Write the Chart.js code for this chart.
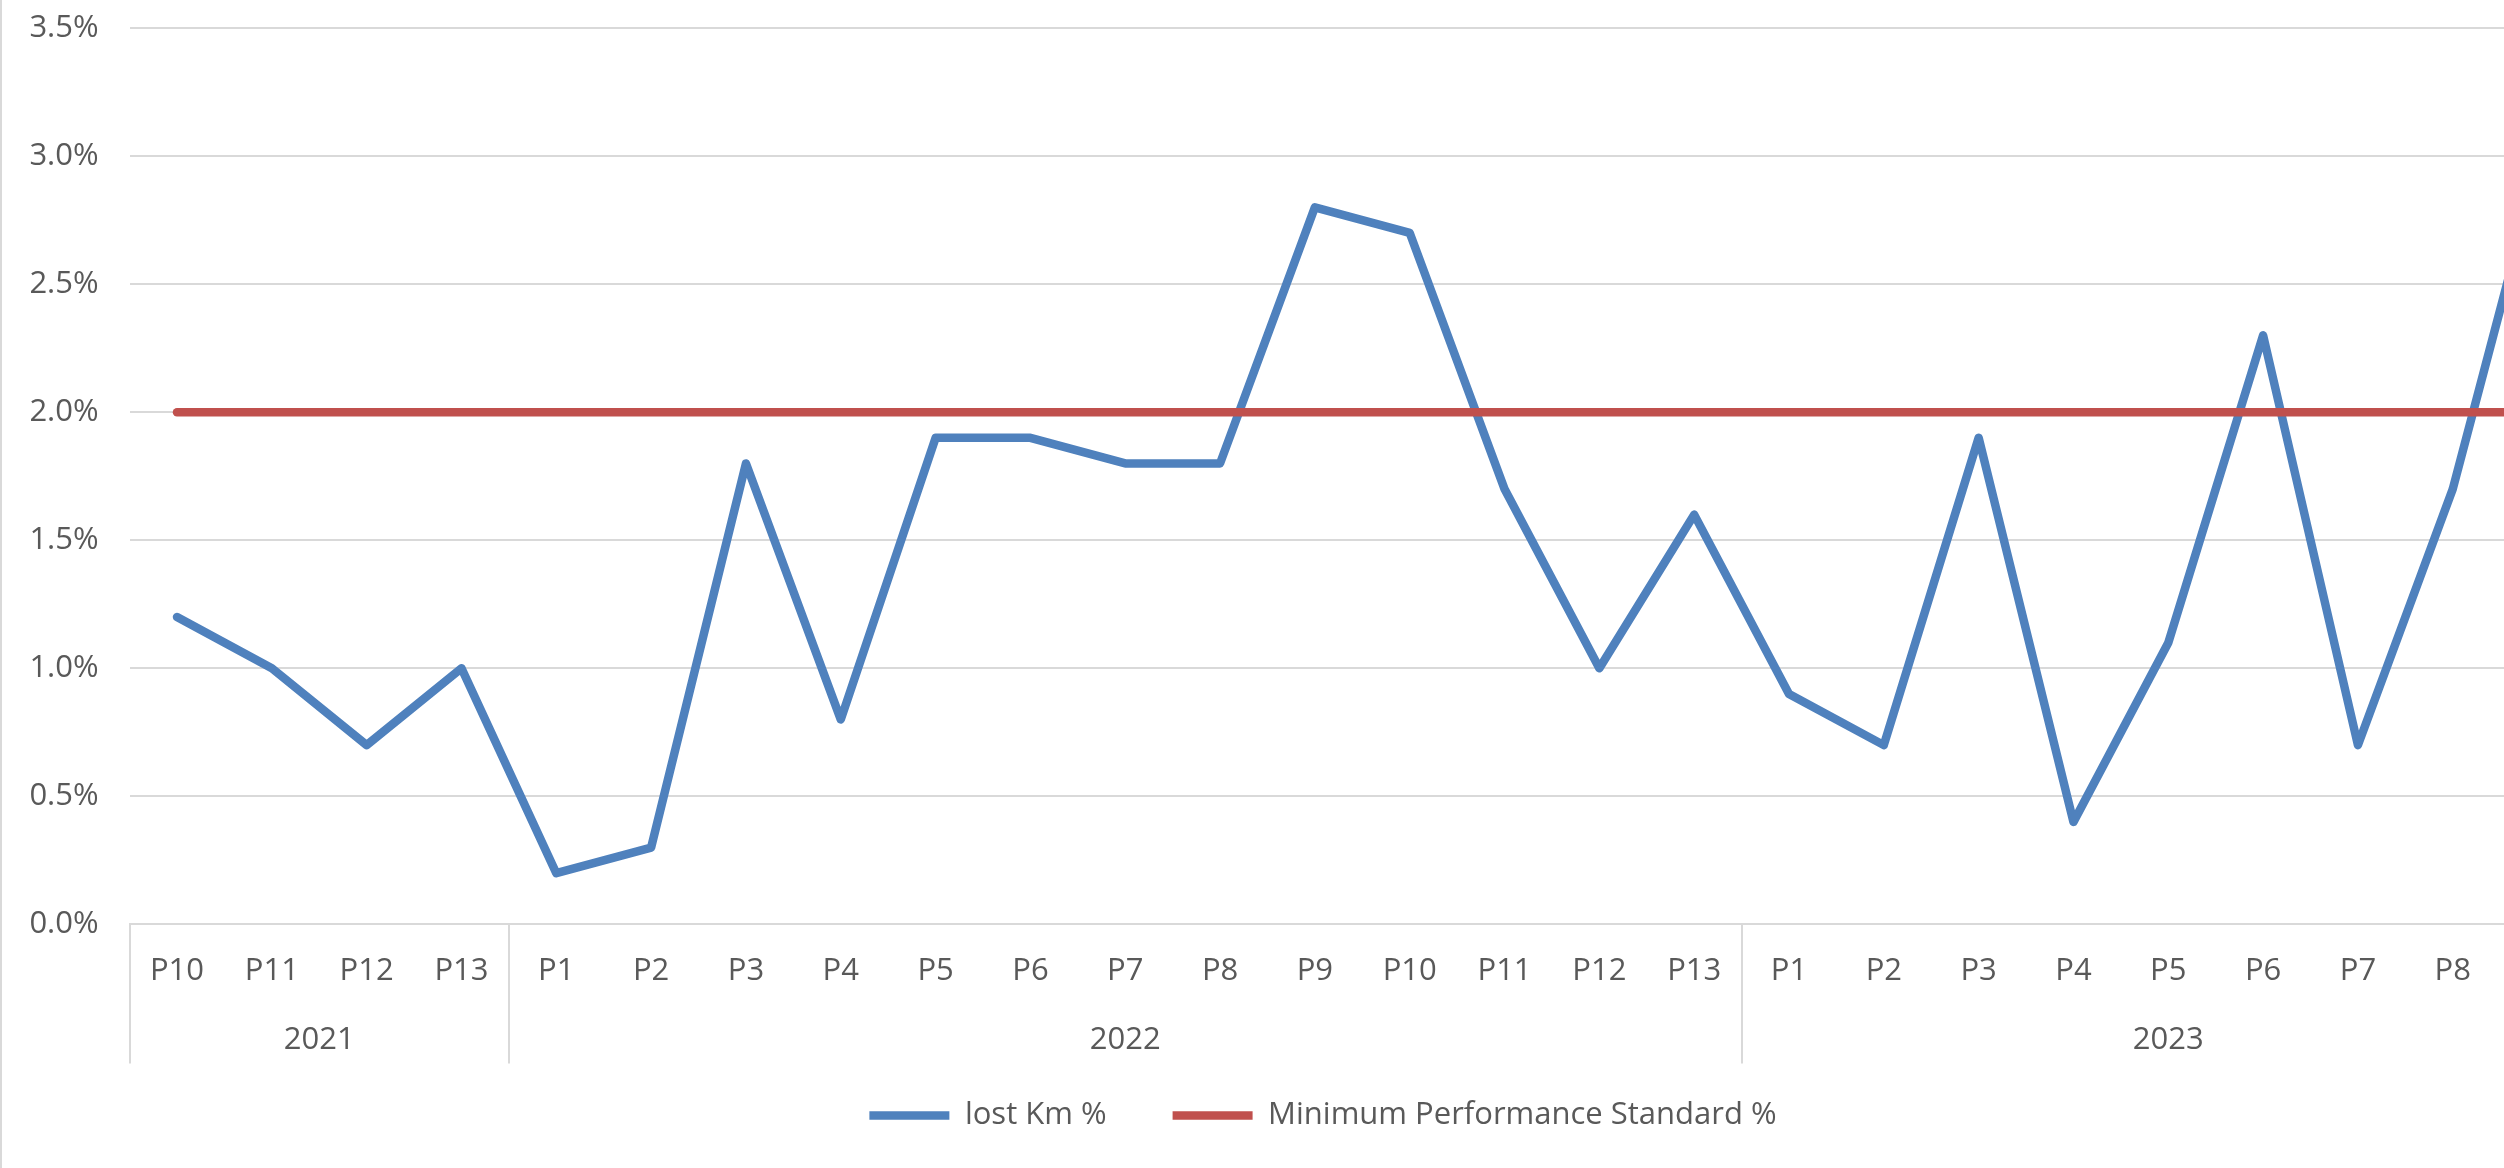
<!DOCTYPE html>
<html>
<head>
<meta charset="utf-8">
<script src="https://cdn.jsdelivr.net/npm/chart.js@4.4.1/dist/chart.umd.min.js"></script>
<style>
  html, body { margin: 0; padding: 0; background: #fff; overflow: hidden; }
  #wrap { position: absolute; left: 0; top: 0; width: 2642px; height: 1168px; border-left: 2px solid #d9d9d9; }
</style>
</head>
<body>
<div id="wrap"><canvas id="chart"></canvas></div>
<script>
const periods = [
  "P10", "P11", "P12", "P13",
  "P1", "P2", "P3", "P4", "P5", "P6", "P7", "P8", "P9", "P10", "P11", "P12", "P13",
  "P1", "P2", "P3", "P4", "P5", "P6", "P7", "P8", "P9"
];
const years = ["2021", "2022", "2023"];
const yearSizes = [4, 13, 9];

const lostKm = [
  1.2, 1.0, 0.7, 1.0,
  0.2, 0.3, 1.8, 0.8, 1.9, 1.9, 1.8, 1.8, 2.8, 2.7, 1.7, 1.0, 1.6,
  0.9, 0.7, 1.9, 0.4, 1.1, 2.3, 0.7, 1.7, 3.1
];
const minStandard = [
  2.0, 2.0, 2.0, 2.0,
  2.0, 2.0, 2.0, 2.0, 2.0, 2.0, 2.0, 2.0, 2.0, 2.0, 2.0, 2.0, 2.0,
  2.0, 2.0, 2.0, 2.0, 2.0, 2.0, 2.0, 2.0, 2.0
];

// year group centres and boundaries in category index units
const yearCenters = [];
const yearEdges = [-0.5];
let start = 0;
yearSizes.forEach(n => {
  yearCenters.push(start + (n - 1) / 2);
  start += n;
  yearEdges.push(start - 0.5);
});

const FONT = { family: "'Open Sans', sans-serif", size: 31 };
const GREY = "#595959";
const GRID = "#d9d9d9";

Chart.defaults.font.family = FONT.family;
Chart.defaults.font.size = FONT.size;
Chart.defaults.color = GREY;

// vertical separators between the year groups, below the x axis
const separators = {
  id: "separators",
  afterDraw(chart) {
    const x = chart.scales.x;
    const ctx = chart.ctx;
    const top = chart.chartArea.bottom;
    const bottom = top + 139;
    ctx.save();
    ctx.strokeStyle = GRID;
    ctx.lineWidth = 2;
    yearEdges.forEach(v => {
      const px = Math.round(x.getPixelForValue(v));
      ctx.beginPath();
      ctx.moveTo(px, top);
      ctx.lineTo(px, bottom);
      ctx.stroke();
    });
    ctx.restore();
  }
};

// legend sits a little closer to the year row than chart.js would put it
const legendLift = {
  id: "legendLift",
  afterLayout(chart) {
    chart.legend.top -= 25;
    chart.legend.bottom -= 25;
  }
};

new Chart(document.getElementById("chart"), {
  type: "line",
  data: {
    labels: periods,
    datasets: [
      {
        label: "lost Km %",
        data: lostKm,
        borderColor: "#4f81bd",
        backgroundColor: "#4f81bd",
        borderWidth: 8.5,
        borderJoinStyle: "round",
        borderCapStyle: "round",
        pointRadius: 0,
        tension: 0,
        order: 1
      },
      {
        label: "Minimum Performance Standard %",
        data: minStandard,
        borderColor: "#c0504d",
        backgroundColor: "#c0504d",
        borderWidth: 8.5,
        borderJoinStyle: "round",
        borderCapStyle: "round",
        pointRadius: 0,
        tension: 0,
        order: 0
      }
    ]
  },
  options: {
    responsive: true,
    maintainAspectRatio: false,
    animation: false,
    layout: { padding: { top: 28, right: 0, bottom: 2, left: 0 } },
    plugins: {
      tooltip: { enabled: false },
      legend: {
        position: "bottom",
        labels: {
          usePointStyle: true,
          pointStyle: "line",
          pointStyleWidth: 80,
          padding: 66,
          color: GREY,
          font: FONT,
          sort: (a, b) => a.datasetIndex - b.datasetIndex
        }
      }
    },
    scales: {
      y: {
        min: 0,
        max: 3.5,
        afterFit: s => { s.width = 127.6; s.paddingTop = 0; s.paddingBottom = 0; },
        ticks: {
          stepSize: 0.5,
          padding: 31,
          color: GREY,
          font: FONT,
          callback: v => v.toFixed(1) + "%"
        },
        grid: { color: GRID, lineWidth: 2, drawTicks: false },
        border: { display: false }
      },
      yRight: {
        position: "right",
        afterFit: s => { s.width = 49; },
        ticks: { display: false },
        grid: { display: false, drawTicks: false },
        border: { display: false }
      },
      x: {
        offset: true,
        afterFit: s => { s.height = 65.2; },
        ticks: { padding: 28, autoSkip: false, maxRotation: 0, color: GREY, font: FONT },
        grid: { display: false, drawTicks: false },
        border: { display: true, color: GRID, width: 2 }
      },
      x2: {
        type: "linear",
        position: "bottom",
        min: -0.5,
        max: periods.length - 0.5,
        bounds: "data",
        afterBuildTicks: s => { s.ticks = yearCenters.map(v => ({ value: v })); },
        afterFit: s => { s.height = 69.4; },
        ticks: {
          padding: 32.2,
          autoSkip: false,
          maxRotation: 0,
          color: GREY,
          font: FONT,
          callback: (v, i) => years[i]
        },
        grid: { display: false, drawTicks: false },
        border: { display: false }
      }
    }
  },
  plugins: [separators, legendLift]
});
</script>
</body>
</html>
